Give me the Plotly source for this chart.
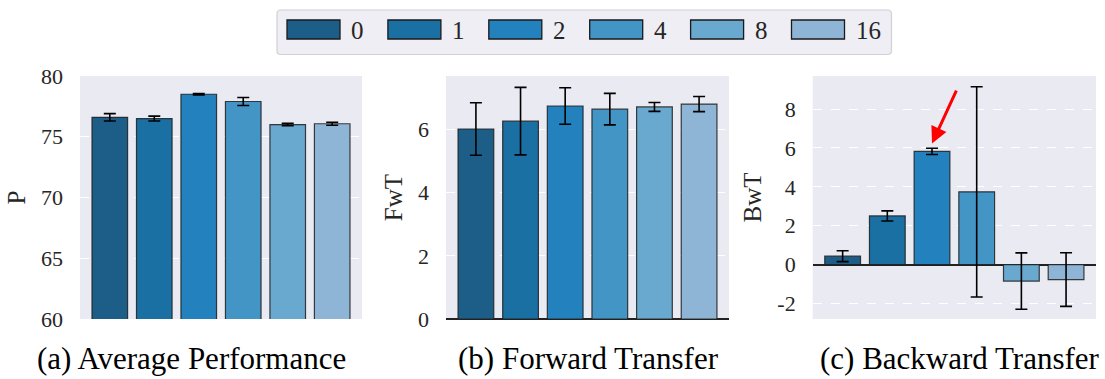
import plotly.graph_objects as go

# ---------------- data ----------------
categories = ["0", "1", "2", "4", "8", "16"]
colors = ["#1d5e88", "#1a6fa3", "#2381bd", "#4395c5", "#69a8cf", "#8fb5d6"]

p_vals = [76.6, 76.5, 78.5, 77.9, 76.0, 76.07]
p_err = [0.30, 0.20, 0.05, 0.33, 0.10, 0.12]

fwt_vals = [6.02, 6.27, 6.75, 6.65, 6.72, 6.81]
fwt_err = [0.83, 1.07, 0.58, 0.50, 0.14, 0.24]

bwt_vals = [0.43, 2.50, 5.82, 3.74, -0.85, -0.77]
bwt_err = [0.28, 0.26, 0.16, 5.41, 1.45, 1.38]

panel_titles = ["(a) Average Performance", "(b) Forward Transfer", "(c) Backward Transfer"]
y_titles = ["P", "FwT", "BwT"]
y_ranges = [[60, 80], [0, 7.7], [-2.8, 9.7]]
y_ticks = [[60, 65, 70, 75, 80], [0, 2, 4, 6], [-2, 0, 2, 4, 6, 8]]
highlight_index = 2  # arrow points at this bar in (c)

W, H = 1105, 379
FONT = "Liberation Serif"
TXT = "#262626"

# pixel layout helpers
def px(x):
    return x / W

def py(y):
    return 1 - y / H

x_domains = [[px(80), px(362)], [px(446), px(729)], [px(812.7), px(1096)]]
y_domain = [py(319), py(76)]
caption_centers = [191, 588, 960]

fig = go.Figure()

series = [(p_vals, p_err), (fwt_vals, fwt_err), (bwt_vals, bwt_err)]
for k, (vals, errs) in enumerate(series):
    ax = "" if k == 0 else str(k + 1)
    fig.add_trace(go.Bar(
        x=categories, y=vals,
        error_y=dict(type="data", array=errs, visible=True, color="black",
                     thickness=1.6, width=6),
        marker=dict(color=colors, line=dict(color="rgba(30,30,30,0.85)", width=1.2)),
        width=0.8,
        xaxis="x" + ax, yaxis="y" + ax,
        showlegend=False,
    ))
    xa = dict(domain=x_domains[k], anchor="y" + ax, type="category",
              range=[-0.67, 5.67], showticklabels=False, showgrid=False,
              zeroline=False, showline=False, ticks="", automargin=False)
    ya = dict(domain=y_domain, anchor="x" + ax, range=y_ranges[k],
              tickvals=y_ticks[k], ticktext=[str(t) for t in y_ticks[k]],
              showgrid=True, gridcolor="white", griddash="dash", gridwidth=1,
              zeroline=(k != 0), zerolinecolor="#222222", zerolinewidth=1.5,
              showline=False, ticks="", ticklabelstandoff=16, automargin=False,
              tickfont=dict(family=FONT, size=22, color=TXT),
              title=dict(text=y_titles[k], font=dict(family=FONT, size=25, color=TXT),
                         standoff=8))
    fig.layout["xaxis" + ax] = xa
    fig.layout["yaxis" + ax] = ya

# panel captions
for k, t in enumerate(panel_titles):
    fig.add_annotation(x=px(caption_centers[k]), y=py(358), xref="paper", yref="paper",
                       text=t, showarrow=False,
                       font=dict(family=FONT, size=31, color="black"),
                       xanchor="center", yanchor="middle")

# red arrow in (c)
tip_y = bwt_vals[highlight_index] + bwt_err[highlight_index] + 0.25
fig.add_annotation(x=highlight_index, y=tip_y, xref="x3", yref="y3",
                   ax=highlight_index + 0.56, ay=tip_y + 2.8, axref="x3", ayref="y3",
                   showarrow=True, arrowhead=2, arrowsize=1.1, arrowwidth=3,
                   arrowcolor="#ff0000", text="")

# legend (drawn from categories/colors)
shapes = []
bx0, bx1, by0, by1, r = 277, 891.5, 10, 54.5, 4
rx, ry = r / W, r / H
path = (f"M {px(bx0)+rx},{py(by0)} L {px(bx1)-rx},{py(by0)} "
        f"Q {px(bx1)},{py(by0)} {px(bx1)},{py(by0)-ry} "
        f"L {px(bx1)},{py(by1)+ry} Q {px(bx1)},{py(by1)} {px(bx1)-rx},{py(by1)} "
        f"L {px(bx0)+rx},{py(by1)} Q {px(bx0)},{py(by1)} {px(bx0)},{py(by1)+ry} "
        f"L {px(bx0)},{py(by0)-ry} Q {px(bx0)},{py(by0)} {px(bx0)+rx},{py(by0)} Z")
shapes.append(dict(type="path", xref="paper", yref="paper", path=path,
                   fillcolor="#eeeef4", line=dict(color="#d0d0d6", width=1.2)))
for i, (c, col) in enumerate(zip(categories, colors)):
    x0 = 287 + i * 100.9
    shapes.append(dict(type="rect", xref="paper", yref="paper",
                       x0=px(x0), x1=px(x0 + 53), y0=py(39), y1=py(20),
                       fillcolor=col, line=dict(color="#1a1a1a", width=1.3)))
    fig.add_annotation(x=px(x0 + 62), y=py(30), xref="paper", yref="paper",
                       text=c, showarrow=False, xanchor="left", yanchor="middle",
                       font=dict(family=FONT, size=25, color=TXT))

fig.update_layout(
    width=W, height=H,
    margin=dict(l=0, r=0, t=0, b=0, autoexpand=False),
    paper_bgcolor="white",
    plot_bgcolor="#eaeaf2",
    shapes=shapes,
    showlegend=False,
    bargap=0.2,
)

fig.write_html("out.html",
               config={"displayModeBar": False},
               post_script="document.body.style.margin='0';document.body.style.overflow='hidden';")
